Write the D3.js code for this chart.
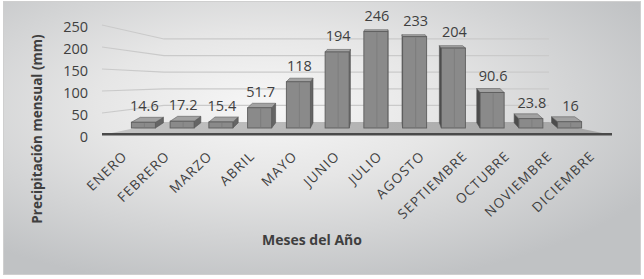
<!DOCTYPE html>
<html lang="es">
<head>
    <meta charset="UTF-8">
    <title>Precipitación mensual</title>
    <script src="https://d3js.org/d3.v7.min.js"></script>
    <style>
        body { margin: 0; background: #fff; font-family: "Open Sans", sans-serif; }
        text { fill: #3f3f3f; }
    </style>
</head>
<body>
    <svg id="chart" width="644" height="279"></svg>
    <script>
        const months = ["ENERO", "FEBRERO", "MARZO", "ABRIL", "MAYO", "JUNIO",
                        "JULIO", "AGOSTO", "SEPTIEMBRE", "OCTUBRE", "NOVIEMBRE", "DICIEMBRE"];
        const rainfall = [14.6, 17.2, 15.4, 51.7, 118, 194, 246, 233, 204, 90.6, 23.8, 16];
        const yTicks = [0, 50, 100, 150, 200, 250];

        const width = 644, height = 279;
        const svg = d3.select("#chart");

        // background panel
        const defs = svg.append("defs");
        const bg = defs.append("radialGradient").attr("id", "bg")
            .attr("cx", "42%").attr("cy", "38%").attr("r", "68%");
        bg.append("stop").attr("offset", "0%").attr("stop-color", "#f7f7f7");
        bg.append("stop").attr("offset", "40%").attr("stop-color", "#e6e6e6");
        bg.append("stop").attr("offset", "100%").attr("stop-color", "#c0c2c4");

        const floorGrad = defs.append("linearGradient").attr("id", "floor");
        floorGrad.append("stop").attr("offset", "0%").attr("stop-color", "#c4c4c4");
        floorGrad.append("stop").attr("offset", "100%").attr("stop-color", "#a4a4a4");

        svg.append("rect")
            .attr("x", 3.5).attr("y", 1.5)
            .attr("width", 637).attr("height", 273)
            .attr("fill", "url(#bg)")
            .attr("stroke", "#cfcfcf");

        // scales: front plane of the walls/floor, and the bars standing in the middle
        const xFloor = d3.scaleBand().domain(months).range([102, 612]);
        const yWall = d3.scaleLinear().domain([0, 250]).range([135, 25]);
        const xBar = d3.scaleBand().domain(months).range([124, 589])
            .paddingInner(0.38).paddingOuter(0.19);
        const yBar = d3.scaleLinear().domain([0, 250]).range([128, 30]);

        // perspective toward the back wall
        const wallVP = [355, 82], wallS = 0.755;
        const toBack = p => [wallVP[0] + (p[0] - wallVP[0]) * wallS,
                             wallVP[1] + (p[1] - wallVP[1]) * wallS];
        // depth of the bars
        const barVP = [385, -20], barS = 0.965;
        const barBack = p => [barVP[0] + (p[0] - barVP[0]) * barS,
                              barVP[1] + (p[1] - barVP[1]) * barS];

        const [x0, x1] = xFloor.range();
        const pts = a => a.map(p => p.join(",")).join(" ");

        // floor
        svg.append("polygon")
            .attr("points", pts([[x0, yWall(0)], [x1, yWall(0)], toBack([x1, yWall(0)]), toBack([x0, yWall(0)])]))
            .attr("fill", "url(#floor)");

        // gridlines on side and back walls
        const grid = svg.append("g")
            .attr("fill", "none")
            .attr("stroke", "#cacaca")
            .attr("stroke-width", 1.2);
        yTicks.filter(t => t > 0).forEach(t => {
            const a = [x0, yWall(t)];
            grid.append("polyline").attr("points", pts([a, toBack(a), toBack([x1, yWall(t)])]));
        });

        // front edge of floor
        svg.append("rect")
            .attr("x", x0).attr("y", yWall(0) - 2)
            .attr("width", x1 - x0).attr("height", 2.5)
            .attr("fill", "#4a4a4a");

        // y tick labels
        svg.append("g").selectAll("text")
            .data(yTicks)
            .join("text")
            .attr("x", 88)
            .attr("y", d => yWall(d) + 2)
            .attr("dy", "0.35em")
            .attr("text-anchor", "end")
            .style("font-size", "14.5px")
            .text(d => d);

        // bars
        const data = months.map((m, i) => ({ month: m, value: rainfall[i] }));
        const bars = svg.append("g").selectAll("g")
            .data(data)
            .join("g");

        bars.each(function(d) {
            const g = d3.select(this);
            const bx0 = xBar(d.month), bx1 = bx0 + xBar.bandwidth();
            const yt = yBar(d.value), yb = yBar(0);
            const cx = (bx0 + bx1) / 2;
            const sx = cx < barVP[0] ? bx1 : bx0;

            g.append("polygon")
                .attr("points", pts([[sx, yt], [sx, yb], barBack([sx, yb]), barBack([sx, yt])]))
                .attr("fill", cx < barVP[0] ? "#656565" : "#4c4c4c")
                .attr("stroke", "#4f4f4f").attr("stroke-width", 0.6);

            g.append("polygon")
                .attr("points", pts([[bx0, yt], [bx1, yt], barBack([bx1, yt]), barBack([bx0, yt])]))
                .attr("fill", "#a2a2a2")
                .attr("stroke", "#5f5f5f").attr("stroke-width", 0.6);

            g.append("rect")
                .attr("x", bx0).attr("y", yt)
                .attr("width", bx1 - bx0).attr("height", yb - yt)
                .attr("fill", "#8a8a8a")
                .attr("stroke", "#5c5c5c").attr("stroke-width", 0.9);

            g.append("line")
                .attr("x1", cx + 1).attr("x2", cx + 1)
                .attr("y1", yt + 1).attr("y2", yb - 1)
                .attr("stroke", "#7a7a7a").attr("stroke-width", 0.8);
        });

        // value labels
        svg.append("g").selectAll("text")
            .data(data)
            .join("text")
            .attr("x", d => xBar(d.month) + xBar.bandwidth() / 2 + 1)
            .attr("y", d => yBar(d.value) - 11)
            .attr("text-anchor", "middle")
            .style("font-size", "14.5px")
            .text(d => d.value);

        // month labels
        svg.append("g").selectAll("text")
            .data(months)
            .join("text")
            .attr("text-anchor", "end")
            .attr("transform", d => `translate(${xFloor(d) + xFloor.bandwidth() / 2 + 5},157) rotate(-44)`)
            .style("font-size", "13.5px")
            .style("letter-spacing", "1.2px")
            .text(d => d);

        // axis titles
        svg.append("text")
            .attr("transform", "translate(42,129) rotate(-90)")
            .attr("text-anchor", "middle")
            .style("font-size", "13.5px")
            .style("font-weight", "bold")
            .text("Precipitación mensual (mm)");

        svg.append("text")
            .attr("x", 312).attr("y", 245)
            .attr("text-anchor", "middle")
            .style("font-size", "14px")
            .style("font-weight", "bold")
            .text("Meses del Año");
    </script>
</body>
</html>
